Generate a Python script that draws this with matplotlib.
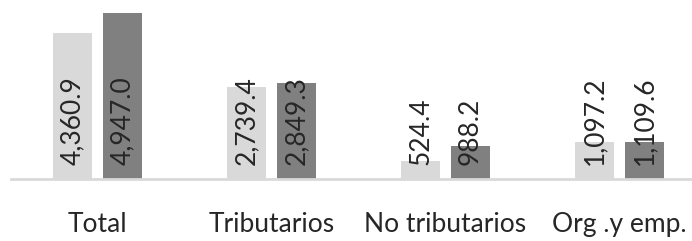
import matplotlib
matplotlib.use("Agg")
import matplotlib.pyplot as plt
import numpy as np

categories = ["Total", "Tributarios", "No tributarios", "Org .y emp."]
series_a = [4360.9, 2739.4, 524.4, 1097.2]
series_b = [4947.0, 2849.3, 988.2, 1109.6]

plt.rcParams['font.family'] = ['Lato', 'DejaVu Sans']

fig = plt.figure(figsize=(6.92, 2.41), dpi=100)
ax = fig.add_axes([10.5/692, 62/241, 696/692, 179/241])

x = np.arange(len(categories))
off = 0.143
w = 0.224
ca = "#d9d9d9"
cb = "#808080"
ax.bar(x - off, series_a, width=w, color=ca)
ax.bar(x + off, series_b, width=w, color=cb)

for xi, v in zip(x - off, series_a):
    ax.annotate(f"{v:,.1f}", xy=(xi, 0), xytext=(0, 10), textcoords="offset points",
                rotation=90, ha="center", va="bottom", fontsize=19, color="#262626")
for xi, v in zip(x + off, series_b):
    ax.annotate(f"{v:,.1f}", xy=(xi, 0), xytext=(0, 10), textcoords="offset points",
                rotation=90, ha="center", va="bottom", fontsize=19, color="#262626")

ax.set_xlim(-0.5, 3.5)
ax.set_ylim(0, 5330)
ax.set_xticks(x)
ax.set_xticklabels(categories, fontsize=19, color="#262626")
ax.tick_params(axis="x", length=0, pad=24)
ax.set_yticks([])
for s in ["top", "right", "left"]:
    ax.spines[s].set_visible(False)
ax.spines["bottom"].set_color("#d9d9d9")
ax.spines["bottom"].set_linewidth(2)

fig.savefig("out.png", dpi=100)
